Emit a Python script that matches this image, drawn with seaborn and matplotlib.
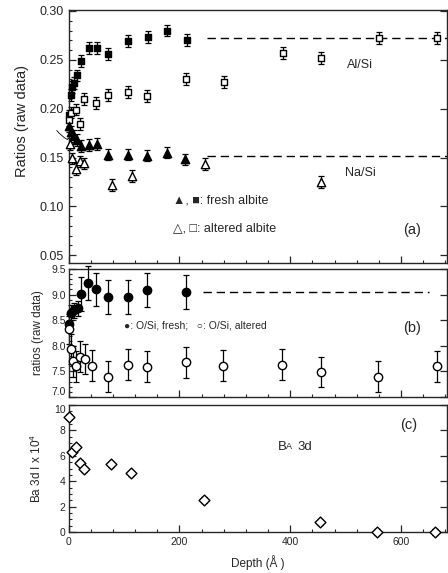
import numpy as np
import pandas as pd
import matplotlib
matplotlib.use("Agg")
import matplotlib.pyplot as plt
from matplotlib.ticker import MultipleLocator
import seaborn as sns

# ---------------- data ----------------
# Panel (a): Al/Si and Na/Si ratios
alsi_fresh_depth = [1, 4, 7, 10, 16, 22, 37, 52, 71, 107, 143, 178, 213]
alsi_fresh_val = [0.193, 0.214, 0.222, 0.226, 0.234, 0.249, 0.262, 0.262, 0.256, 0.269, 0.273, 0.280, 0.270]
alsi_alt_depth = [1, 4, 14, 20, 28, 50, 71, 107, 142, 212, 280, 387, 456, 561, 664]
alsi_alt_val = [0.188, 0.196, 0.199, 0.184, 0.210, 0.206, 0.214, 0.217, 0.213, 0.230, 0.227, 0.257, 0.252, 0.272, 0.272]
nasi_fresh_depth = [1, 5, 10, 16, 22, 37, 52, 71, 107, 141, 177, 211]
nasi_fresh_val = [0.182, 0.176, 0.172, 0.168, 0.162, 0.163, 0.164, 0.153, 0.153, 0.152, 0.155, 0.148]
nasi_alt_depth = [2, 7, 14, 20, 28, 79, 115, 246, 456]
nasi_alt_val = [0.164, 0.149, 0.138, 0.146, 0.144, 0.122, 0.131, 0.143, 0.125]
ratio_err = 0.006
alsi_bulk = 0.2727
nasi_bulk = 0.1518
bulk_depth_a = [250, 683]

# Panel (b): O/Si ratios
osi_fresh_depth = [1, 5, 10, 17, 22, 35, 50, 71, 107, 142, 212]
osi_fresh_val = [8.43, 8.65, 8.69, 8.73, 9.01, 9.22, 9.10, 8.95, 8.95, 9.09, 9.05]
osi_fresh_err = [0.15, 0.15, 0.15, 0.15, 0.33, 0.33, 0.33, 0.33, 0.33, 0.33, 0.33]
osi_alt_depth = [1, 4, 8, 14, 20, 29, 43, 71, 107, 142, 212, 279, 386, 455, 559, 664]
osi_alt_val = [8.33, 7.94, 7.70, 7.60, 7.79, 7.74, 7.61, 7.40, 7.63, 7.59, 7.68, 7.61, 7.63, 7.49, 7.40, 7.60]
osi_alt_err = 0.3
osi_bulk = 9.045
bulk_depth_b = [243, 650]

# Panel (c): Ba 3d intensity
ba_depth = [0, 7, 14, 20, 28, 77, 112, 244, 453, 557, 661]
ba_val = [9.08, 6.32, 6.67, 5.46, 4.94, 5.35, 4.62, 2.52, 0.76, 0.0, 0.0]
ba_err = 0.2

x_ticks = [0, 200, 400, 600]

# ---------------- style ----------------
sns.set_style("ticks")
plt.rcParams["font.family"] = ["Liberation Sans", "DejaVu Sans"]
plt.rcParams["mathtext.fontset"] = "custom"
plt.rcParams["mathtext.rm"] = "Liberation Sans"
plt.rcParams["mathtext.it"] = "Liberation Sans"
plt.rcParams["axes.linewidth"] = 1.0

fig = plt.figure(figsize=(4.48, 5.73), dpi=100)
W_PX, H_PX = 448.0, 573.0
L = 68.5 / W_PX
R = 0.998


def make_ax(top, bottom):
    return fig.add_axes([L, 1 - bottom / H_PX, R - L, (bottom - top) / H_PX])


axa = make_ax(10, 263)
axb = make_ax(269, 397)
axc = make_ax(405, 532)


def points(ax, x, y, err, marker, filled, ms):
    ax.errorbar(x, y, yerr=err, fmt="none", ecolor="black", elinewidth=0.9,
                capsize=2.3, capthick=0.9, zorder=2, clip_on=False)
    sns.scatterplot(x=x, y=y, marker=marker, s=ms ** 2,
                    color="black" if filled else "white", edgecolor="black",
                    linewidth=1.0, ax=ax, zorder=3, clip_on=False, legend=False)


def dashed(ax, xs, v):
    sns.lineplot(x=xs, y=[v, v], ax=ax, color="black", linewidth=1.0,
                 linestyle=(0, (6, 3.5)), zorder=1)


# ---- panel (a)
points(axa, alsi_fresh_depth, alsi_fresh_val, ratio_err, "s", True, 5)
points(axa, alsi_alt_depth, alsi_alt_val, ratio_err, "s", False, 5)
points(axa, nasi_fresh_depth, nasi_fresh_val, ratio_err, "^", True, 6)
points(axa, nasi_alt_depth, nasi_alt_val, ratio_err, "^", False, 6)
dashed(axa, bulk_depth_a, alsi_bulk)
dashed(axa, bulk_depth_a, nasi_bulk)
axa.set_ylim(0.042, 0.301)
axa.set_yticks([0.05, 0.10, 0.15, 0.20, 0.25, 0.30])
axa.set_yticklabels(["0.05", "0.10", "0.15", "0.20", "0.25", "0.30"])
axa.yaxis.set_minor_locator(MultipleLocator(0.01))
axa.set_ylabel("Ratios (raw data)", fontsize=10.5)
axa.yaxis.set_label_coords(-0.105, 0.56)
axa.text(526, 0.2447, "Al/Si", fontsize=9, ha="center", va="center")
axa.text(526, 0.134, "Na/Si", fontsize=9, ha="center", va="center")
axa.text(189, 0.1064, "▲, ■: fresh albite", fontsize=9, ha="left", va="center")
axa.text(189, 0.0777, "△, □: altered albite", fontsize=9, ha="left", va="center")
axa.text(620, 0.0756, "(a)", fontsize=10.5, ha="center", va="center")
axa.annotate("", xy=(3, 0.167), xytext=(-24, 0.180),
             arrowprops=dict(arrowstyle="-", lw=0.6, color="black",
                             connectionstyle="arc3,rad=0.15"),
             annotation_clip=False)

# ---- panel (b)
points(axb, osi_fresh_depth, osi_fresh_val, osi_fresh_err, "o", True, 6)
points(axb, osi_alt_depth, osi_alt_val, osi_alt_err, "o", False, 6)
dashed(axb, bulk_depth_b, osi_bulk)
axb.set_ylim(7.0, 9.5)
axb.yaxis.set_major_locator(MultipleLocator(0.5))
axb.yaxis.set_minor_locator(MultipleLocator(0.1))
axb.set_ylabel("ratios (raw data)", fontsize=8.5)
axb.yaxis.set_label_coords(-0.066, 0.5)
axb.text(101, 8.39, "●: O/Si, fresh;   ○: O/Si, altered", fontsize=7.5,
         ha="left", va="center")
axb.text(620, 8.35, "(b)", fontsize=10.5, ha="center", va="center")

# ---- panel (c)
points(axc, ba_depth, ba_val, ba_err, "D", False, 5.5)
axc.set_ylim(0, 10)
axc.yaxis.set_major_locator(MultipleLocator(2))
axc.yaxis.set_minor_locator(MultipleLocator(0.5))
axc.set_ylabel("Ba 3d I x 10$^{4}$", fontsize=8.5)
axc.yaxis.set_label_coords(-0.066, 0.5)
axc.text(614, 8.43, "(c)", fontsize=10.5, ha="center", va="center")
tB = axc.text(377, 6.69, "B", fontsize=9.5, ha="left", va="center")
tA = axc.annotate("A", xy=(1, 0), xycoords=tB, fontsize=6.5, ha="left", va="bottom",
                  xytext=(-0.3, 1.2), textcoords="offset points")
axc.annotate("3d", xy=(1, 0), xycoords=tA, fontsize=9.5, ha="left", va="bottom",
             xytext=(4.0, -1.2), textcoords="offset points")
axc.set_xlabel("Depth (Å )", fontsize=8.5, labelpad=6)

for ax in (axa, axb, axc):
    ax.set_xlim(0, 683)
    ax.set_xticks(x_ticks)
    ax.xaxis.set_minor_locator(MultipleLocator(40))
    ax.tick_params(which="major", direction="in", length=5, width=0.9,
                   left=True, bottom=True, right=True, top=False)
    ax.tick_params(which="minor", direction="in", length=2.5, width=0.8,
                   left=True, bottom=True, right=False, top=False)
    for s in ax.spines.values():
        s.set_visible(True)
        s.set_linewidth(1.0)

axa.tick_params(axis="x", labelbottom=False)
axb.tick_params(axis="x", labelbottom=False)
axa.tick_params(axis="y", labelsize=9)
axb.tick_params(axis="y", labelsize=7.5, pad=2)
axc.tick_params(axis="y", labelsize=7.5, pad=2)
axc.tick_params(axis="x", labelsize=7.5)

# keep the shared-edge labels "7.0" and "10" from colliding
fig.canvas.draw()
for lab in axb.get_yticklabels():
    if lab.get_text() == "7.0":
        lab.set_verticalalignment("bottom")
for lab in axc.get_yticklabels():
    if lab.get_text() == "10":
        lab.set_verticalalignment("top")

fig.savefig("out.png", dpi=100)
